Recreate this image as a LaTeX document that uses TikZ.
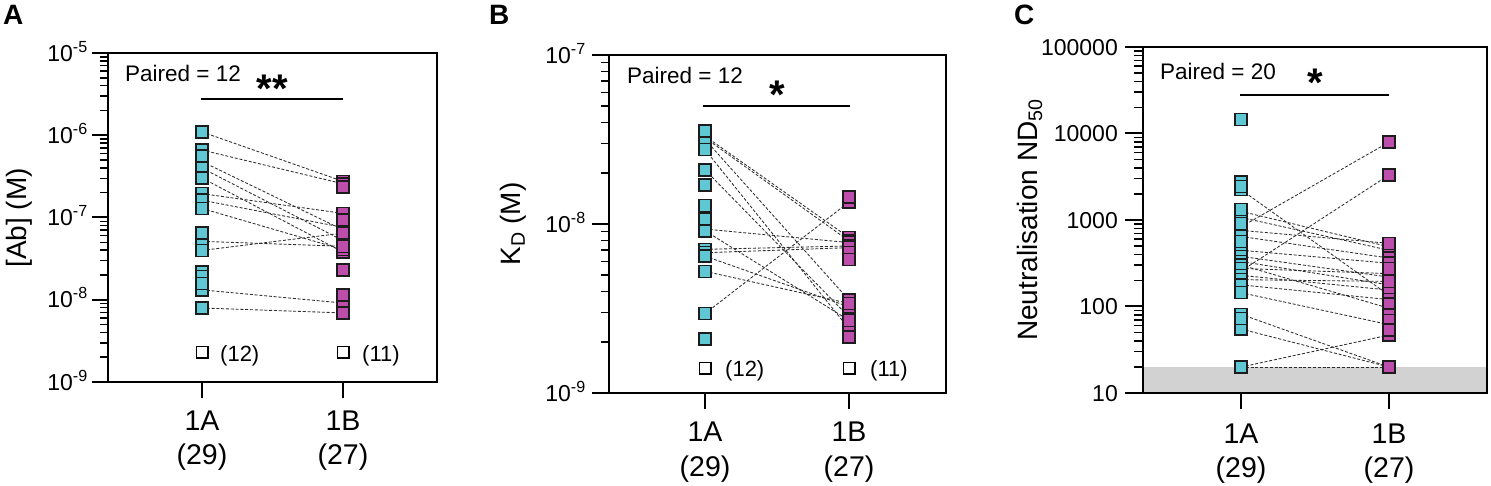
\documentclass[tikz,border=0pt]{standalone}
\usepackage{fontspec}
\setmainfont{Liberation Sans}
\usetikzlibrary{backgrounds}
\definecolor{cya}{RGB}{96,200,212}
\definecolor{mag}{RGB}{190,78,172}
\definecolor{edg}{RGB}{28,28,28}
\definecolor{dsh}{RGB}{45,45,45}
\definecolor{lod}{RGB}{210,210,210}
\tikzset{
    SQA/.style ={rectangle,minimum size=12pt,inner sep=0pt,line width=1.5pt,draw=edg,fill=cya},
    SQB/.style ={rectangle,minimum size=12pt,inner sep=0pt,line width=1.5pt,draw=edg,fill=mag},
    SQO/.style ={rectangle,minimum size=11.5pt,inner sep=0pt,line width=1.5pt,draw=black,fill=white},
    DL/.style ={draw=dsh,line width=0.85pt,dash pattern=on 3pt off 1.8pt},
    AX/.style ={line width=2pt},
    MT/.style ={line width=1.5pt},
    TL/.style ={font=\fontsize{23}{23}\selectfont,inner sep=0pt,anchor=base east,yshift=-8.2pt},
    CL/.style ={font=\fontsize{28.5}{28.5}\selectfont,inner sep=0pt,anchor=base},
    YL/.style ={font=\fontsize{28}{28}\selectfont,inner sep=0pt,anchor=base,rotate=90},
    PL/.style ={font=\fontsize{22.5}{22.5}\selectfont,inner sep=0pt,anchor=base west},
    NL/.style ={font=\fontsize{22}{22}\selectfont,inner sep=0pt,anchor=base west},
    ST/.style ={font=\bfseries\fontsize{40}{40}\selectfont,inner sep=0pt,anchor=base},
    LT/.style ={font=\bfseries\fontsize{28}{28}\selectfont,inner sep=0pt,anchor=base west}
}
\begin{document}
\begin{tikzpicture}[x=1pt,y=-1pt]
\useasboundingbox (0,0) rectangle (1491,486);
% A
\node[LT] (A-let) at (3,25) {A};
\node[YL] (A-yl) at (27,218) {[Ab] (M)};
\begin{scope}[shift={(0,-358.25)},y=82.25pt]
    \draw[AX] (108,-9) rectangle (437,-5);
    \foreach \d in {-9,...,-5} {
        \draw[AX] (92,\d) -- (108,\d);
        \node[TL] (A-t\d) at (88,\d) {10\textsuperscript{\d}};
    }
    \foreach \d in {-9,...,-6}
        \foreach \k in {2,...,9}
            \draw[MT] (100,{\d+log10(\k)}) -- (108,{\d+log10(\k)});
    \draw[AX] (202,-9) -- ++(0,-16pt);
    \draw[AX] (343,-9) -- ++(0,-16pt);
    \foreach \a/\b [count=\i] in {-5.96/-6.56,-6.18/-6.59,-6.32/-7.15,-6.40/-7.28,-6.52/-7.42,-6.71/-6.95,
        -6.79/-7.12,-6.89/-7.39,-7.29/-7.35,-7.40/-7.19,-7.88/-8.04,-8.10/-8.16} {
        \node[SQA] (A-a\i) at (202,\a) {};
        \node[SQB] (A-b\i) at (343,\b) {};
        \begin{pgfonlayer}{background}
            \draw[DL] (A-a\i.center) -- (A-b\i.center);
        \end{pgfonlayer}
    }
    \foreach \a [count=\i] in {-6.25,-7.19,-7.66,-7.72,-7.80}
        \node[SQA] (A-ua\i) at (202,\a) {};
    \foreach \b [count=\i] in {-6.63,-7.03,-7.64,-7.94}
        \node[SQB] (A-ub\i) at (343,\b) {};
\end{scope}
\node[SQO] (A-o1) at (202,352) {};
\node[SQO] (A-o2) at (343,352) {};
\node[NL] (A-n1) at (220,361.5) {(12)};
\node[NL] (A-n2) at (362,361.5) {(11)};
\node[PL] (A-pr) at (125,81.7) {Paired = 12};
\coordinate (A-s1) at (201,99);
\coordinate (A-s2) at (343,99);
\draw[AX] (A-s1) -- (A-s2);
\node[ST] (A-st) at (272.5,103) {**};
\node[CL] (A-c1) at (202,430) {1A};
\node[CL] (A-c2) at (343,430) {1B};
\node[CL] (A-m1) at (202,464.5) {(29)};
\node[CL] (A-m2) at (343,464.5) {(27)};
% B
\node[LT] (B-let) at (489,25) {B};
\node[YL] (B-yl) at (520,224) {K\textsubscript{D} (M)};
\begin{scope}[shift={(0,-1128)},y=169pt]
    \draw[AX] (609,-9) rectangle (946,-7);
    \foreach \d in {-9,...,-7} {
        \draw[AX] (592,\d) -- (609,\d);
        \node[TL] (B-t\d) at (586,\d) {10\textsuperscript{\d}};
    }
    \foreach \d in {-9,-8}
        \foreach \k in {2,...,9}
            \draw[MT] (601,{\d+log10(\k)}) -- (609,{\d+log10(\k)});
    \draw[AX] (705,-9) -- ++(0,-16pt);
    \draw[AX] (849,-9) -- ++(0,-16pt);
    \foreach \a/\b [count=\i] in {-7.48/-8.08,-7.49/-8.10,-7.50/-8.45,-7.56/-8.62,-7.68/-8.55,-8.03/-8.11,
        -8.04/-8.57,-8.15/-8.13,-8.17/-8.14,-8.19/-8.49,-8.28/-8.47,-8.53/-7.87} {
        \node[SQA] (B-a\i) at (705,\a) {};
        \node[SQB] (B-b\i) at (849,\b) {};
        \begin{pgfonlayer}{background}
            \draw[DL] (B-a\i.center) -- (B-b\i.center);
        \end{pgfonlayer}
    }
    \foreach \a [count=\i] in {-7.45,-7.77,-7.89,-7.97,-8.68}
        \node[SQA] (B-ua\i) at (705,\a) {};
    \foreach \b [count=\i] in {-7.84,-8.17,-8.21,-8.67}
        \node[SQB] (B-ub\i) at (849,\b) {};
\end{scope}
\node[SQO] (B-o1) at (705,368) {};
\node[SQO] (B-o2) at (849,368) {};
\node[NL] (B-n1) at (725,376.5) {(12)};
\node[NL] (B-n2) at (870,376.5) {(11)};
\node[PL] (B-pr) at (627,83.3) {Paired = 12};
\coordinate (B-s1) at (703,106);
\coordinate (B-s2) at (850,106);
\draw[AX] (B-s1) -- (B-s2);
\node[ST] (B-st) at (777,108.5) {*};
\node[CL] (B-c1) at (705,441.5) {1A};
\node[CL] (B-c2) at (849,441.5) {1B};
\node[CL] (B-m1) at (705,476) {(29)};
\node[CL] (B-m2) at (849,476) {(27)};
% C
\node[LT] (C-let) at (1014,25) {C};
\node[YL] (C-yl) at (1037,220) {Neutralisation ND\textsubscript{50}};
\begin{scope}[shift={(0,479.5)},y=86.5pt]
    \begin{pgfonlayer}{background}
        \fill[lod] (1143,1) rectangle (1487,{log10(20)});
    \end{pgfonlayer}
    \draw[AX] (1143,1) rectangle (1487,5);
    \foreach \d/\t in {1/10,2/100,3/1000,4/10000,5/100000} {
        \draw[AX] (1125,\d) -- (1143,\d);
        \node[TL] (C-t\d) at (1118,\d) {\t};
    }
    \foreach \d in {1,...,4}
        \foreach \k in {2,...,9}
            \draw[MT] (1134,{\d+log10(\k)}) -- (1143,{\d+log10(\k)});
    \draw[AX] (1241,1) -- ++(0,-16pt);
    \draw[AX] (1389,1) -- ++(0,-16pt);
    \foreach \a/\b [count=\i] in {2.92/3.90,2.41/3.52,3.35/2.13,3.10/2.69,3.03/2.65,2.88/2.73,2.81/2.56,
        2.65/2.50,2.58/2.34,2.52/2.25,2.48/1.98,2.44/2.38,2.36/2.19,2.31/2.29,2.25/2.08,2.16/1.79,
        1.91/1.30,1.74/1.30,1.30/1.67,1.30/1.30} {
        \node[SQA] (C-a\i) at (1241,\a) {};
        \node[SQB] (C-b\i) at (1389,\b) {};
        \begin{pgfonlayer}{background}
            \draw[DL] (C-a\i.center) -- (C-b\i.center);
        \end{pgfonlayer}
    }
    \foreach \a [count=\i] in {4.16,3.44,3.39,3.12,2.96,2.75,1.86,1.30,1.30}
        \node[SQA] (C-ua\i) at (1241,\a) {};
    \foreach \b [count=\i] in {2.44,2.03,1.90,1.84,1.73,1.30,1.30}
        \node[SQB] (C-ub\i) at (1389,\b) {};
\end{scope}
\node[PL] (C-pr) at (1160,80) {Paired = 20};
\coordinate (C-s1) at (1240,95);
\coordinate (C-s2) at (1389,95);
\draw[AX] (C-s1) -- (C-s2);
\node[ST] (C-st) at (1315,97) {*};
\node[CL] (C-c1) at (1241,443) {1A};
\node[CL] (C-c2) at (1389,443) {1B};
\node[CL] (C-m1) at (1241,477) {(29)};
\node[CL] (C-m2) at (1389,477) {(27)};
\end{tikzpicture}
\end{document}
